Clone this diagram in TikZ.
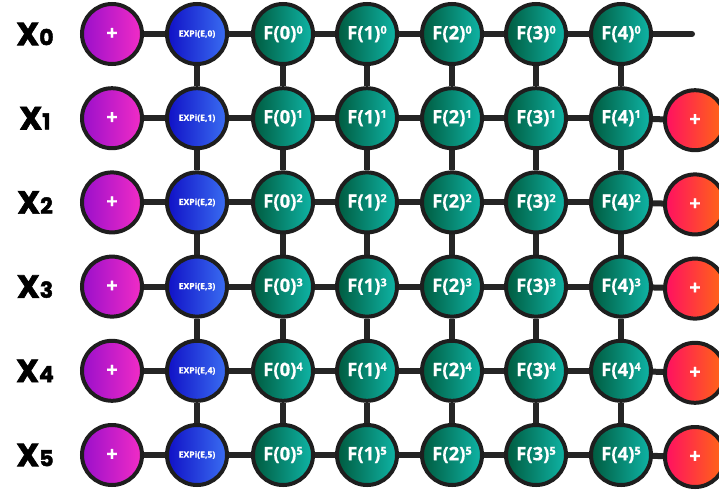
\documentclass[tikz,border=0pt]{standalone}
\usepackage{fontspec}
\setmainfont{Open Sans}[BoldFeatures={FakeBold=0.6}]
\newfontfamily\labfont{Poppins}[BoldFeatures={FakeBold=2}]
\usetikzlibrary{backgrounds}
\definecolor{ringc}{HTML}{1E1E1E}
\definecolor{linec}{HTML}{252525}
\definecolor{pura}{HTML}{9A0FCB}
\definecolor{purb}{HTML}{F22CC6}
\definecolor{blua}{HTML}{1010C6}
\definecolor{blub}{HTML}{3A6EF2}
\definecolor{grna}{HTML}{005B3F}
\definecolor{grnb}{HTML}{0FB5A6}
\definecolor{reda}{HTML}{FF0F62}
\definecolor{redb}{HTML}{FF6A12}
\begin{document}
\begin{tikzpicture}[x=1pt,y=-1pt,
  bub/.style={circle,draw=ringc,line width=4pt,minimum size=60pt,inner sep=0pt,text=white},
  plusbub/.style={bub,font=\bfseries\fontsize{20}{20}\selectfont},
  purbub/.style={plusbub,left color=pura,right color=purb},
  redbub/.style={plusbub,left color=reda,right color=redb},
  expbub/.style={bub,left color=blua,right color=blub,font=\bfseries\fontsize{8.6}{9}\selectfont},
  fbub/.style={bub,left color=grna,right color=grnb,font=\bfseries\fontsize{18.5}{18.5}\selectfont},
  conn/.style={draw=linec,line width=6pt},
  rowlab/.style={font=\labfont\bfseries,text=black,inner sep=0pt}
]
\useasboundingbox (0,0) rectangle (719,490);
\foreach \r in {0,...,5} {
  \pgfmathsetmacro{\yy}{34+\r*84.2}
  \node[rowlab] (x\r) at (35,\yy) {\fontsize{32}{32}\selectfont X\fontsize{22}{22}\selectfont\r};
  \node[purbub] (p\r) at (112,\yy) {+};
  \node[expbub] (e\r) at (197,\yy) {EXPi(E,\r)};
  \foreach \c/\xx in {0/283,1/367,2/452,3/536,4/621} {
    \node[fbub] (f\c-\r) at (\xx,\yy) {F(\c)\raisebox{5.5pt}{\fontsize{11}{11}\selectfont\r}};
  }
}
\foreach \r in {1,...,5} {
  \pgfmathsetmacro{\yy}{36+\r*84.2}
  \node[redbub] (r\r) at (695,\yy) {+};
}
\coordinate (end0) at (692,34);
\begin{scope}[on background layer]
  \foreach \r in {0,...,5} {
    \draw[conn] (p\r) -- (e\r);
    \draw[conn] (e\r) -- (f0-\r);
    \draw[conn] (f0-\r) -- (f1-\r);
    \draw[conn] (f1-\r) -- (f2-\r);
    \draw[conn] (f2-\r) -- (f3-\r);
    \draw[conn] (f3-\r) -- (f4-\r);
  }
  \foreach \r in {1,...,5} {
    \draw[conn] (f4-\r) -- (r\r);
  }
  \draw[conn,line cap=round] (f4-0.center) -- (end0);
  \foreach \r [evaluate=\r as \n using int(\r+1)] in {0,...,4} {
    \draw[conn] (e\r) -- (e\n);
    \foreach \c in {0,...,4} {
      \draw[conn] (f\c-\r) -- (f\c-\n);
    }
  }
\end{scope}
\end{tikzpicture}
\end{document}
